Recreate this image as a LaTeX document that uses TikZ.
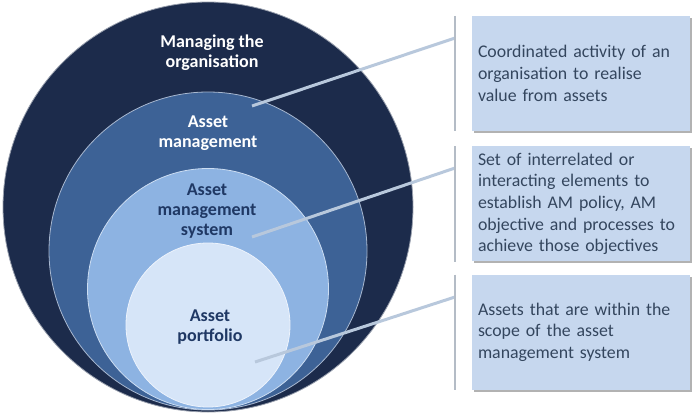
\documentclass[tikz,border=0pt]{standalone}
\usepackage{fontspec}
\setmainfont{Carlito}
\usetikzlibrary{positioning,shadows}
\definecolor{orgnavy}{HTML}{1C2B4B}
\definecolor{amblue}{HTML}{3D6296}
\definecolor{amsblue}{HTML}{8DB3E2}
\definecolor{portblue}{HTML}{D6E5F8}
\definecolor{boxblue}{HTML}{C6D7EE}
\definecolor{boxtext}{HTML}{34465E}
\definecolor{ringtxt}{HTML}{1F3864}
\definecolor{bargray}{HTML}{B4BCC6}
\definecolor{linkblue}{HTML}{B8C8DC}
\tikzset{%
	ring/.style     = {circle, draw=white!55!#1, line width=0.8pt, fill=#1, inner sep=0pt}, % Nested circle
	ringtext/.style = {align=center, font=\fontsize{18}{20}\selectfont\bfseries}, % Circle caption
	descbox/.style  = {rectangle, fill=boxblue, minimum width=218pt, minimum height=115pt, text width=206pt, inner sep=6pt, align=left, text=boxtext, font=\fontsize{17.8}{21.7}\selectfont, drop shadow={shadow xshift=2pt, shadow yshift=-2pt, fill=black, opacity=0.3}}, % Description
	bar/.style      = {draw=bargray, line width=2.5pt}, % Bracket bar
	link/.style     = {draw=linkblue, line width=3pt}, % Leader line
}
\begin{document}
\begin{tikzpicture}[x=1pt, y=-1pt]
	\useasboundingbox (0,0) rectangle (700,414);
	% circles
	\node[ring=orgnavy, minimum size=410pt] (org) at (208,207) {};
	\node[ring=amblue, minimum size=318pt] (am) at (208,251) {};
	\node[ring=amsblue, minimum size=241pt] (ams) at (208,289) {};
	\node[ring=portblue, minimum size=164pt] (port) at (208,325) {};
	% descriptions
	\node[descbox] (d1) at (581,73.5) {Coordinated activity of an\\organisation to realise\\value from assets};
	\node[descbox, below=15pt of d1] (d2) {Set of interrelated or\\interacting elements to\\establish AM policy, AM\\objective and processes to\\achieve those objectives};
	\node[descbox, below=13pt of d2] (d3) {Assets that are within the\\scope of the asset\\management system};
	% leader lines
	\coordinate (amp) at (252,106);
	\coordinate (amsp) at (252,237);
	\coordinate (portp) at (255,362);
	\coordinate (b1) at (455,38);
	\coordinate (b2) at (455,168);
	\coordinate (b3) at (455,297);
	\draw[link] (amp) -- (b1);
	\draw[link] (amsp) -- (b2);
	\draw[link] (portp) -- (b3);
	\foreach \d in {d1,d2,d3}
		\draw[bar] ([xshift=-17pt]\d.north west) -- ([xshift=-17pt]\d.south west);
	% captions
	\node[ringtext, text=white] (orgtxt) at (212,53) {Managing the\\organisation};
	\node[ringtext, text=white] (amtxt) at (208,133) {Asset\\management};
	\node[ringtext, text=ringtxt] (amstxt) at (207,211) {Asset\\management\\system};
	\node[ringtext, text=ringtxt] (porttxt) at (210,327) {Asset\\portfolio};
\end{tikzpicture}
\end{document}
